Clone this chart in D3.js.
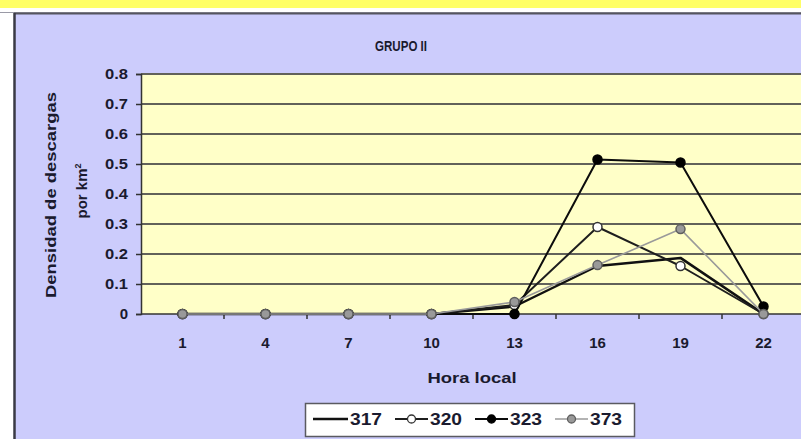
<!DOCTYPE html>
<html>
<head>
<meta charset="utf-8">
<script src="https://cdn.jsdelivr.net/npm/d3@7"></script>
<style>
  html, body { margin: 0; padding: 0; background: #ffffff; }
  svg { display: block; }
  text { font-family: "Liberation Sans", Arial, sans-serif; font-weight: bold; fill: #1a1a2e; }
</style>
</head>
<body>
<svg id="chart" width="801" height="439"></svg>
<script>
// Hour of day (categories on the x axis)
const hours = ["1", "4", "7", "10", "13", "16", "19", "22"];

// Discharge density per km² for each station
const seriesNames = ["317", "320", "323", "373"];
const values317 = [0, 0, 0, 0, 0.025, 0.16, 0.187, 0];
const values320 = [0, 0, 0, 0, 0.03, 0.29, 0.16, 0];
const values323 = [0, 0, 0, 0, 0, 0.515, 0.505, 0.025];
const values373 = [0, 0, 0, 0, 0.04, 0.163, 0.283, 0];

const yTicks = [0, 0.1, 0.2, 0.3, 0.4, 0.5, 0.6, 0.7, 0.8];

const chartTitle = "GRUPO II";
const xTitle = "Hora local";
const yTitleLine1 = "Densidad de descargas";
const yTitleLine2 = "por km";

// Line and marker look per station
const styles = {
  "317": { stroke: "#111111", width: 2.5, marker: null },
  "320": { stroke: "#1e1e1e", width: 2,   marker: { fill: "#ffffff", stroke: "#333333" } },
  "323": { stroke: "#0c0c0c", width: 2,   marker: { fill: "#000000", stroke: "#000000" } },
  "373": { stroke: "#9a9a9a", width: 1.6, marker: { fill: "#999999", stroke: "#5e5e5e" } }
};

const seriesData = [
  { name: seriesNames[0], values: values317 },
  { name: seriesNames[1], values: values320 },
  { name: seriesNames[2], values: values323 },
  { name: seriesNames[3], values: values373 }
];

const svg = d3.select("#chart");

// Page banner and chart frame
svg.append("rect").attr("x", 0).attr("y", 0).attr("width", 801).attr("height", 8).attr("fill", "#ffff66");
svg.append("rect").attr("x", 14).attr("y", 13).attr("width", 801).attr("height", 439).attr("fill", "#ccccfc");
svg.append("line").attr("x1", 0).attr("x2", 801).attr("y1", 12.5).attr("y2", 12.5)
  .attr("stroke", "#9a9aa6").attr("stroke-width", 1);
svg.append("line").attr("x1", 14).attr("x2", 801).attr("y1", 13.5).attr("y2", 13.5)
  .attr("stroke", "#55555f").attr("stroke-width", 2);
svg.append("line").attr("x1", 14.5).attr("x2", 14.5).attr("y1", 13).attr("y2", 439)
  .attr("stroke", "#3a3a44").attr("stroke-width", 2.5);

// Scales
const x = d3.scaleBand().domain(hours).range([141, 141 + 83 * hours.length]).paddingInner(0).paddingOuter(0);
const y = d3.scaleLinear().domain([0, 0.8]).range([314, 74]);
const cx = h => x(h) + x.bandwidth() / 2;

// Plot area
svg.append("rect")
  .attr("x", x.range()[0]).attr("y", y(0.8))
  .attr("width", x.range()[1] - x.range()[0]).attr("height", y(0) - y(0.8))
  .attr("fill", "#ffffc8");

// Horizontal gridlines
svg.append("g").selectAll("line")
  .data(yTicks.filter(d => d > 0))
  .join("line")
  .attr("x1", x.range()[0]).attr("x2", x.range()[1])
  .attr("y1", d => y(d)).attr("y2", d => y(d))
  .attr("stroke", "#62625a").attr("stroke-width", 1.8);

// Y axis
const yAxis = d3.axisLeft(y).tickValues(yTicks).tickSize(5).tickPadding(8)
  .tickFormat(d => d === 0 ? "0" : d3.format(".1f")(d));
const gy = svg.append("g").attr("transform", `translate(${x.range()[0]},0)`).call(yAxis);
gy.select(".domain").attr("stroke", "#333333").attr("stroke-width", 1.5);
gy.selectAll(".tick line").attr("stroke", "#333333").attr("stroke-width", 1.5);
gy.selectAll(".tick text").attr("font-size", 15).attr("fill", "#1a1a2e")
  .attr("font-family", "'Liberation Sans', Arial, sans-serif")
  .attr("textLength", d => d === 0 ? null : 23).attr("lengthAdjust", "spacingAndGlyphs");

// X axis (ticks sit between categories)
const boundaries = hours.map(h => x(h)).slice(1);
svg.append("line").attr("x1", x.range()[0]).attr("x2", x.range()[1])
  .attr("y1", y(0)).attr("y2", y(0)).attr("stroke", "#333333").attr("stroke-width", 1.5);
svg.append("g").selectAll("line").data(boundaries).join("line")
  .attr("x1", d => d).attr("x2", d => d).attr("y1", y(0)).attr("y2", y(0) + 5)
  .attr("stroke", "#333333").attr("stroke-width", 1.5);
svg.append("g").selectAll("text").data(hours).join("text")
  .attr("x", d => cx(d)).attr("y", 348)
  .attr("text-anchor", "middle").attr("font-size", 15)
  .text(d => d);

// Series lines and markers
const line = d3.line().x((d, i) => cx(hours[i])).y(d => y(d));
seriesData.forEach(s => {
  const st = styles[s.name];
  svg.append("path").datum(s.values)
    .attr("d", line).attr("fill", "none")
    .attr("stroke", st.stroke).attr("stroke-width", st.width)
    .attr("stroke-linejoin", "round");
  if (st.marker) {
    svg.append("g").selectAll("circle").data(s.values).join("circle")
      .attr("cx", (d, i) => cx(hours[i])).attr("cy", d => y(d)).attr("r", 4.5)
      .attr("fill", st.marker.fill).attr("stroke", st.marker.stroke).attr("stroke-width", 1.5);
  }
});

// Titles
svg.append("text").attr("x", 401).attr("y", 51).attr("text-anchor", "middle")
  .attr("font-size", 14).attr("textLength", 52).attr("lengthAdjust", "spacingAndGlyphs")
  .text(chartTitle);
svg.append("text").attr("x", 472).attr("y", 383).attr("text-anchor", "middle")
  .attr("font-size", 15).attr("textLength", 89).attr("lengthAdjust", "spacingAndGlyphs")
  .text(xTitle);
svg.append("text").attr("transform", "translate(56,195) rotate(-90)")
  .attr("text-anchor", "middle").attr("font-size", 15)
  .attr("textLength", 206).attr("lengthAdjust", "spacingAndGlyphs")
  .text(yTitleLine1);
const t2 = svg.append("text").attr("transform", "translate(87,191) rotate(-90)")
  .attr("text-anchor", "middle").attr("font-size", 15);
t2.append("tspan").text(yTitleLine2);
t2.append("tspan").attr("font-size", 9).attr("dy", -6).text("2");

// Legend
const legend = svg.append("g");
legend.append("rect").attr("x", 305.5).attr("y", 403.5).attr("width", 329).attr("height", 33)
  .attr("fill", "#ffffff").attr("stroke", "#5a5a60").attr("stroke-width", 1.5);
const legendItems = [
  { name: seriesNames[0], x0: 313, x1: 348 },
  { name: seriesNames[1], x0: 395, x1: 428 },
  { name: seriesNames[2], x0: 475, x1: 508 },
  { name: seriesNames[3], x0: 555, x1: 588 }
];
legendItems.forEach(it => {
  const st = styles[it.name];
  const ly = 419;
  legend.append("line").attr("x1", it.x0).attr("x2", it.x1).attr("y1", ly).attr("y2", ly)
    .attr("stroke", st.stroke).attr("stroke-width", st.width);
  if (st.marker) {
    legend.append("circle").attr("cx", (it.x0 + it.x1) / 2).attr("cy", ly).attr("r", 4)
      .attr("fill", st.marker.fill).attr("stroke", st.marker.stroke).attr("stroke-width", 1.3);
  }
  legend.append("text").attr("x", it.x1 + 2).attr("y", ly + 6).attr("font-size", 16)
    .attr("textLength", 32).attr("lengthAdjust", "spacingAndGlyphs").text(it.name);
});
</script>
</body>
</html>
